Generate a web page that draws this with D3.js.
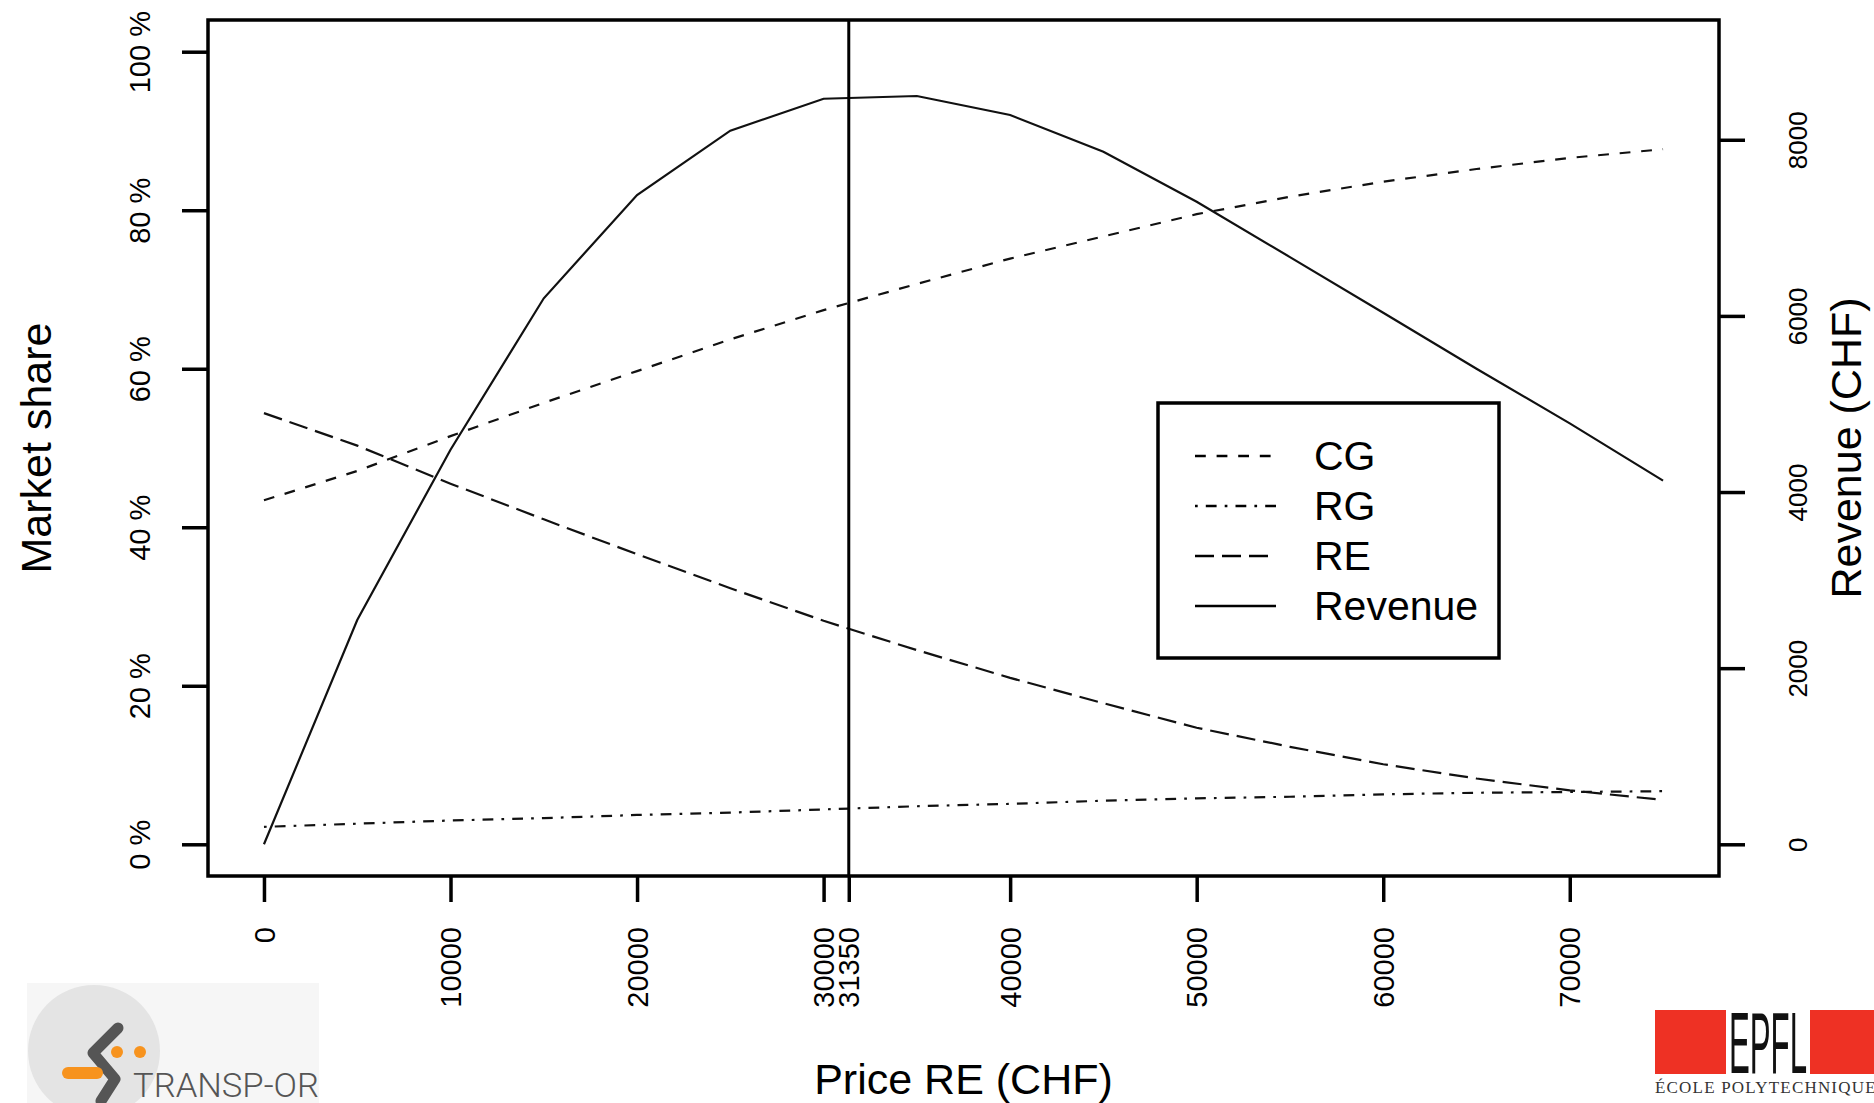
<!DOCTYPE html>
<html>
<head>
<meta charset="utf-8">
<script src="https://cdn.jsdelivr.net/npm/d3@7"></script>
<style>
  body { margin: 0; background: #fff; }
  svg text { font-family: "Liberation Sans", Arial, sans-serif; }
</style>
</head>
<body>
<div id="chart"></div>
<script>
// values
const price = [0, 5000, 10000, 15000, 20000, 25000, 30000, 35000, 40000, 45000, 50000, 55000, 60000, 65000, 70000, 75000];
const shareCG = [43.4, 47.1, 51.5, 55.7, 59.7, 63.7, 67.4, 70.7, 73.9, 76.7, 79.5, 81.7, 83.6, 85.2, 86.6, 87.7];
const shareRG = [2.2, 2.6, 3.0, 3.3, 3.7, 4.0, 4.4, 4.8, 5.1, 5.5, 5.8, 6.0, 6.3, 6.5, 6.6, 6.7];
const shareRE = [54.4, 50.3, 45.5, 41.0, 36.6, 32.3, 28.2, 24.5, 21.0, 17.8, 14.7, 12.3, 10.1, 8.3, 6.8, 5.6];
const revenue = [0, 2547, 4480, 6200, 7373, 8103, 8466, 8497, 8281, 7864, 7296, 6668, 6035, 5400, 4780, 4129];

const optimalPrice = 31350;
const priceTicks = [0, 10000, 20000, 30000, 40000, 50000, 60000, 70000, 31350];
const shareTicks = [0, 20, 40, 60, 80, 100];
const revenueTicks = [0, 2000, 4000, 6000, 8000];

const legendNames = ["CG", "RG", "RE", "Revenue"];

// page / plot geometry (R-like: 4% padding on each axis)
const W = 1874, H = 1103;
const box = { left: 208, right: 1719, top: 20, bottom: 876 };

const svg = d3.select("#chart").append("svg")
    .attr("width", W)
    .attr("height", H);

const x = d3.scaleLinear().domain([-3000, 78000]).range([box.left, box.right]);
const yL = d3.scaleLinear().domain([-4, 104]).range([box.bottom, box.top]);
const yR = d3.scaleLinear().domain([-360, 9360]).range([box.bottom, box.top]);

// line styles (R lty 2, 4, 5, 1)
const styles = {
    CG: "10.8,10.8",
    RG: "2.7,8.1,10.8,8.1",
    RE: "19,8",
    Revenue: null
};

const curveWidth = 2.2;

function drawCurve(vals, scale, dash) {
    const line = d3.line()
        .x((d, i) => x(price[i]))
        .y(d => scale(d));
    svg.append("path")
        .datum(vals)
        .attr("d", line)
        .attr("fill", "none")
        .attr("stroke", "#111")
        .attr("stroke-width", curveWidth)
        .attr("stroke-dasharray", dash);
}

drawCurve(shareCG, yL, styles.CG);
drawCurve(shareRG, yL, styles.RG);
drawCurve(shareRE, yL, styles.RE);
drawCurve(revenue, yR, styles.Revenue);

// optimum price line
svg.append("line")
    .attr("x1", x(optimalPrice)).attr("x2", x(optimalPrice))
    .attr("y1", box.top).attr("y2", box.bottom)
    .attr("stroke", "#000")
    .attr("stroke-width", 3);

// axes
const tickLen = 26;

const gx = svg.append("g")
    .attr("transform", `translate(0,${box.bottom})`)
    .call(d3.axisBottom(x).tickValues(priceTicks).tickSize(tickLen).tickSizeOuter(0).tickFormat(d3.format("d")));
gx.selectAll("text")
    .attr("transform", "rotate(-90)")
    .attr("x", -51).attr("y", 0).attr("dy", "0.35em")
    .attr("text-anchor", "end")
    .style("font-size", "29px");

const gl = svg.append("g")
    .attr("transform", `translate(${box.left},0)`)
    .call(d3.axisLeft(yL).tickValues(shareTicks).tickSize(tickLen).tickSizeOuter(0).tickFormat(d => d + " %"));
gl.selectAll("text")
    .attr("transform", "rotate(-90)")
    .attr("x", 0).attr("y", -68).attr("dy", "0.35em")
    .attr("text-anchor", "middle")
    .style("font-size", "29px");

const gr = svg.append("g")
    .attr("transform", `translate(${box.right},0)`)
    .call(d3.axisRight(yR).tickValues(revenueTicks).tickSize(tickLen).tickSizeOuter(0).tickFormat(d3.format("d")));
gr.selectAll("text")
    .attr("transform", "rotate(-90)")
    .attr("x", 0).attr("y", 79).attr("dy", "0.35em")
    .attr("text-anchor", "middle")
    .style("font-size", "26px");

[gx, gl, gr].forEach(g => {
    g.select(".domain").remove();
    g.selectAll(".tick line").attr("stroke", "#000").attr("stroke-width", 3.5);
    g.selectAll("text").attr("fill", "#000");
});

// plot frame
svg.append("rect")
    .attr("x", box.left).attr("y", box.top)
    .attr("width", box.right - box.left).attr("height", box.bottom - box.top)
    .attr("fill", "none")
    .attr("stroke", "#000")
    .attr("stroke-width", 3.5);

// axis titles
const midY = (box.top + box.bottom) / 2;
svg.append("text")
    .attr("transform", `translate(36,${midY}) rotate(-90)`)
    .attr("text-anchor", "middle").attr("dy", "0.35em")
    .style("font-size", "43px")
    .text("Market share");
svg.append("text")
    .attr("transform", `translate(1846,${midY}) rotate(-90)`)
    .attr("text-anchor", "middle").attr("dy", "0.35em")
    .style("font-size", "43px")
    .text("Revenue (CHF)");
svg.append("text")
    .attr("x", (box.left + box.right) / 2).attr("y", 1079)
    .attr("text-anchor", "middle").attr("dy", "0.35em")
    .style("font-size", "43px")
    .text("Price RE (CHF)");

// legend
const lg = svg.append("g");
lg.append("rect")
    .attr("x", 1158).attr("y", 403)
    .attr("width", 341).attr("height", 255)
    .attr("fill", "#fff")
    .attr("stroke", "#000")
    .attr("stroke-width", 3.5);
legendNames.forEach((name, i) => {
    const yy = 456 + i * 50;
    lg.append("line")
        .attr("x1", 1195).attr("x2", 1276)
        .attr("y1", yy).attr("y2", yy)
        .attr("stroke", "#000")
        .attr("stroke-width", 2.6)
        .attr("stroke-dasharray", styles[name]);
    lg.append("text")
        .attr("x", 1314).attr("y", yy)
        .attr("dy", "0.35em")
        .style("font-size", "41px")
        .text(name);
});

// TRANSP-OR logo (bottom left)
const lo = svg.append("g");
lo.append("rect").attr("x", 27).attr("y", 983).attr("width", 292).attr("height", 120).attr("fill", "#f6f6f6");
lo.append("circle").attr("cx", 94).attr("cy", 1051).attr("r", 66).attr("fill", "#e4e4e4");
lo.append("path")
    .attr("d", "M118,1028 L93,1053 L115,1079 L101,1101")
    .attr("fill", "none").attr("stroke", "#555").attr("stroke-width", 11)
    .attr("stroke-linecap", "round").attr("stroke-linejoin", "round");
lo.append("line").attr("x1", 68).attr("x2", 97).attr("y1", 1073).attr("y2", 1073)
    .attr("stroke", "#f7931e").attr("stroke-width", 12).attr("stroke-linecap", "round");
lo.append("circle").attr("cx", 117).attr("cy", 1052).attr("r", 6).attr("fill", "#f7931e");
lo.append("circle").attr("cx", 140).attr("cy", 1052).attr("r", 6).attr("fill", "#f7931e");
lo.append("text")
    .attr("x", 133).attr("y", 1097)
    .attr("textLength", 186).attr("lengthAdjust", "spacingAndGlyphs")
    .style("font-family", "Roboto, sans-serif")
    .style("font-weight", 300)
    .style("font-size", "33px")
    .attr("fill", "#555")
    .text("TRANSP-OR");

// EPFL logo (bottom right)
const ep = svg.append("g");
ep.append("rect").attr("x", 1655).attr("y", 1010).attr("width", 219).attr("height", 64).attr("fill", "#ee3124");
ep.append("rect").attr("x", 1726).attr("y", 1010).attr("width", 84).attr("height", 64).attr("fill", "#fff");
ep.append("text")
    .attr("x", 1729).attr("y", 1073)
    .attr("textLength", 78).attr("lengthAdjust", "spacingAndGlyphs")
    .style("font-size", "88px")
    .attr("fill", "#111")
    .text("EPFL");
ep.append("text")
    .attr("x", 1655).attr("y", 1093)
    .style("font-family", "'Liberation Serif', serif")
    .style("font-size", "17px")
    .style("letter-spacing", "1.2px")
    .attr("fill", "#333")
    .text("ÉCOLE POLYTECHNIQUE");
</script>
</body>
</html>
